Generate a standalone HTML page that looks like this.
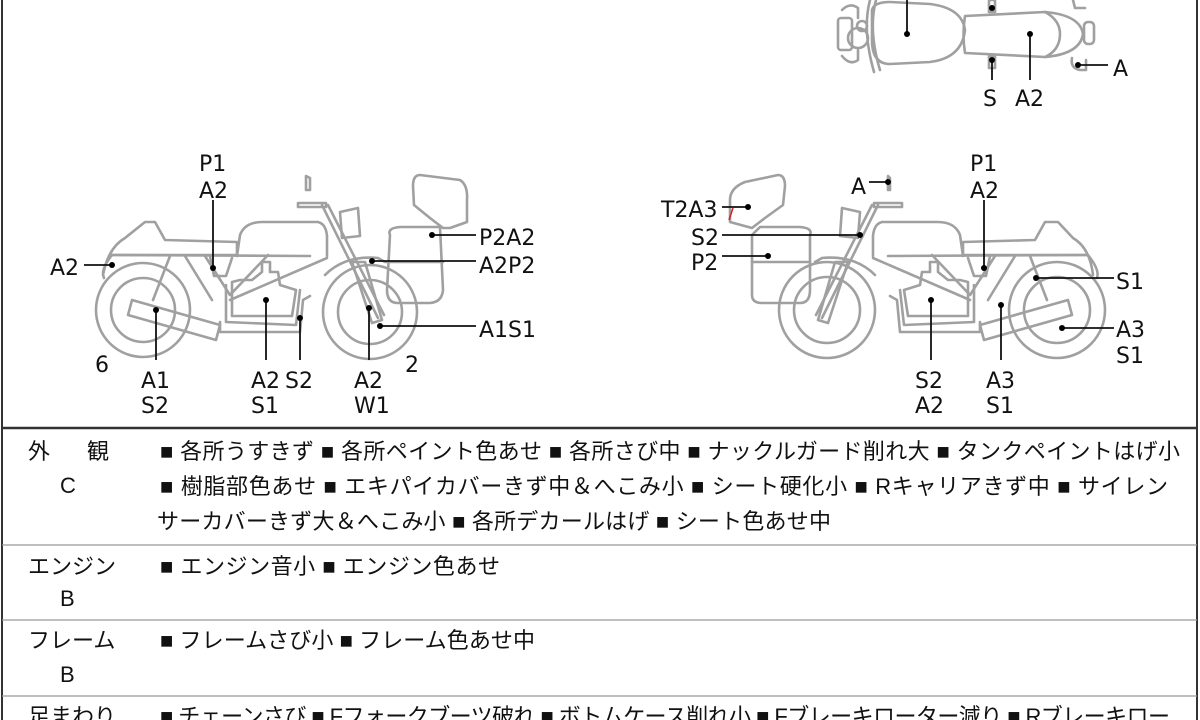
<!DOCTYPE html>
<html><head><meta charset="utf-8"><style>
html,body{margin:0;padding:0;background:#fff;}
body{width:1200px;height:720px;overflow:hidden;position:relative;}
svg{position:absolute;left:0;top:0;}
.jp{font-family:"Liberation Sans","Noto Sans CJK JP",sans-serif;font-size:22px;fill:#111;}
.lb{font-family:"DejaVu Sans","Liberation Sans",sans-serif;font-size:22px;fill:#111;}
.d{fill:none;stroke:#a0a0a0;stroke-width:2.6;stroke-linejoin:round;stroke-linecap:round;}
.l{stroke:#111;stroke-width:1.8;fill:none;}
</style></head><body>
<svg width="1200" height="720" viewBox="0 0 1200 720">
<line x1="2" y1="0" x2="2" y2="720" stroke="#333" stroke-width="2"/>
<line x1="1197" y1="0" x2="1197" y2="720" stroke="#333" stroke-width="2"/>
<line x1="2" y1="428" x2="1197" y2="428" stroke="#333" stroke-width="2.5"/>
<line x1="2" y1="545" x2="1197" y2="545" stroke="#999" stroke-width="1.2"/>
<line x1="2" y1="620" x2="1197" y2="620" stroke="#999" stroke-width="1.2"/>
<line x1="2" y1="696" x2="1197" y2="696" stroke="#999" stroke-width="1.2"/>

<g class="d">
<path d="M872,10 Q874,2 890,2 L930,4 Q962,8 965,30 Q962,58 930,62 L890,64 Q872,64 872,40 Z"/>
<path d="M965,16 L1045,12 Q1080,15 1083,34 Q1080,54 1045,57 L965,53 Q962,34 965,16 Z"/>
<path d="M1045,12 Q1060,20 1060,34 Q1060,50 1045,57"/>
<rect x="1084" y="22" width="10" height="22" rx="4"/>
<path d="M870,0 Q862,30 874,72"/><path d="M876,0 Q868,30 880,70"/>
<rect x="838" y="18" width="14" height="32" rx="3"/>
<circle cx="858" cy="38" r="10"/><circle cx="862" cy="26" r="5"/>
<path d="M842,10 Q850,2 858,8 L858,18"/><path d="M842,56 Q850,66 858,60 L858,50"/>
<rect x="989" y="0" width="6" height="12"/><rect x="989" y="56" width="6" height="12"/>
<path d="M1072,58 Q1070,68 1080,70 L1086,70 L1086,60"/>
<path d="M1073,0 L1075,8 L1085,8"/>
</g>
<g>
<line class="l" x1="907" y1="0" x2="907" y2="34"/><circle cx="907" cy="34" r="3"/>
<line class="l" x1="1030" y1="34" x2="1030" y2="80"/><circle cx="1030" cy="34" r="3"/>
<line class="l" x1="992" y1="60" x2="992" y2="80"/><circle cx="992" cy="60" r="3"/>
<circle cx="992" cy="8" r="3"/>
<line class="l" x1="1078" y1="65" x2="1108" y2="65"/><circle cx="1078" cy="65" r="3"/>
</g>
<text class="lb" x="983" y="106">S</text>
<text class="lb" x="1015" y="106">A2</text>
<text class="lb" x="1113" y="76">A</text>

<g class="d">
<circle cx="143" cy="310" r="47"/><circle cx="143" cy="310" r="32"/>
<circle cx="370" cy="312" r="47"/><circle cx="370" cy="312" r="32"/>
<path d="M103,275 Q108,248 125,238 L145,222 L155,222 L165,240 L237,242 L237,255 L112,255 Q100,270 104,278"/>
<line x1="112" y1="255" x2="310" y2="256"/>
<path d="M237,256 L240,235 Q245,222 262,222 L318,222 Q326,224 327,236 L327,256"/>
<path d="M170,256 L153,300 M185,256 L212,300 M205,256 L230,295 L268,255 M230,300 L327,258"/>
<path d="M210,256 L214,276 L226,276 L232,258"/>
<path d="M232,282 L232,316 L292,316 L296,290 L280,285 L278,272 L270,272 L270,262 L262,262 L262,272 L252,280 L240,280 Z"/>
<path d="M226,285 L226,322 L296,325 L300,290"/>
<path d="M220,322 L220,332 L300,332 L303,300 L310,296"/>
<path d="M132,300 L220,325 L216,340 L128,315 Z"/>
<path d="M322,205 L378,318 M328,205 L384,315"/>
<path d="M352,262 L365,262 L382,320 L372,323 Z"/>
<path d="M298,203 L326,203 L326,207 L298,207 Z"/>
<path d="M306,176 L306,190 L310,190 L310,178 Z"/>
<path d="M340,212 L358,208 L360,236 L342,238 Z"/>
<path d="M325,275 Q345,255 378,258 L385,262"/>
<path d="M390,235 Q387,228 400,227 L440,227 L443,290 Q442,302 430,303 L398,303 Q387,303 387,290 Z"/>
<path d="M413,186 Q413,175 420,175 L460,180 Q468,185 467,200 L467,222 L450,228 L443,228 L430,218 L414,205 Z"/>
<line x1="387" y1="262" x2="443" y2="262"/>
</g>
<g>
<line class="l" x1="213" y1="200" x2="213" y2="268"/><circle cx="213" cy="268" r="3"/>
<line class="l" x1="84" y1="265" x2="112" y2="265"/><circle cx="112" cy="265" r="3"/>
<line class="l" x1="432" y1="235" x2="476" y2="235"/><circle cx="432" cy="235" r="3"/>
<line class="l" x1="372" y1="261" x2="476" y2="261"/><circle cx="372" cy="261" r="3"/>
<line class="l" x1="380" y1="326" x2="476" y2="326"/><circle cx="380" cy="326" r="3"/>
<line class="l" x1="156" y1="310" x2="156" y2="360"/><circle cx="156" cy="310" r="3"/>
<line class="l" x1="266" y1="300" x2="266" y2="360"/><circle cx="266" cy="300" r="3"/>
<line class="l" x1="300" y1="318" x2="300" y2="360"/><circle cx="300" cy="318" r="3"/>
<line class="l" x1="369" y1="308" x2="369" y2="360"/><circle cx="369" cy="308" r="3"/>
</g>
<text class="lb" x="199" y="171">P1</text><text class="lb" x="199" y="198">A2</text>
<text class="lb" x="50" y="275">A2</text>
<text class="lb" x="479" y="245">P2A2</text>
<text class="lb" x="479" y="273">A2P2</text>
<text class="lb" x="479" y="337">A1S1</text>
<text class="lb" x="95" y="372">6</text><text class="lb" x="405" y="372">2</text>
<text class="lb" x="141" y="388">A1</text><text class="lb" x="141" y="413">S2</text>
<text class="lb" x="251" y="388">A2</text><text class="lb" x="251" y="413">S1</text>
<text class="lb" x="285" y="388">S2</text>
<text class="lb" x="354" y="388">A2</text><text class="lb" x="354" y="413">W1</text>

<g class="d">
<circle cx="827" cy="310" r="48"/><circle cx="827" cy="310" r="33"/>
<circle cx="1057" cy="310" r="48"/><circle cx="1057" cy="310" r="33"/>
<path d="M1093,275 Q1090,248 1073,238 L1058,222 L1045,222 L1035,240 L963,242 L963,255 L1088,255 Q1100,270 1097,278"/>
<line x1="1088" y1="255" x2="888" y2="256"/>
<path d="M963,256 L960,235 Q955,222 938,222 L882,222 Q874,224 873,236 L873,256"/>
<path d="M1030,256 L1047,300 M1015,256 L988,300 M995,256 L970,295 L932,255 M970,300 L873,258"/>
<path d="M990,256 L986,276 L974,276 L968,258"/>
<path d="M968,282 L968,316 L908,316 L904,290 L920,285 L922,272 L930,272 L930,262 L938,262 L938,272 L948,280 L960,280 Z"/>
<path d="M974,285 L974,322 L904,325 L900,290"/>
<path d="M980,322 L980,332 L900,332 L897,300 L890,296"/>
<path d="M1068,300 L980,325 L984,340 L1072,315 Z"/>
<path d="M878,205 L822,318 M872,205 L816,315"/>
<path d="M848,262 L835,262 L818,320 L828,323 Z"/>
<path d="M902,203 L874,203 L874,207 L902,207 Z"/>
<path d="M888,176 L888,190 L890,190 L890,178 Z"/>
<path d="M860,212 L842,208 L840,236 L858,238 Z"/>
<path d="M875,275 Q855,255 822,258 L815,262"/>
<path d="M810,235 Q813,228 800,227 L760,227 L752,235 L752,295 Q752,303 762,303 L800,303 Q810,303 810,290 Z"/>
<path d="M785,186 Q785,175 778,175 L745,182 Q730,188 730,200 L730,222 L752,228 L765,218 L783,205 Z"/>
<line x1="752" y1="262" x2="810" y2="262"/>
</g>
<line x1="733" y1="208" x2="729" y2="220" stroke="#d02020" stroke-width="1.5"/>
<g>
<line class="l" x1="722" y1="207" x2="748" y2="207"/><circle cx="748" cy="207" r="3"/>
<line class="l" x1="722" y1="235" x2="860" y2="235"/><circle cx="860" cy="235" r="3"/>
<line class="l" x1="722" y1="256" x2="768" y2="256"/><circle cx="768" cy="256" r="3"/>
<line class="l" x1="869" y1="182" x2="888" y2="182"/><circle cx="888" cy="182" r="3"/>
<line class="l" x1="984" y1="200" x2="984" y2="268"/><circle cx="984" cy="268" r="3"/>
<line class="l" x1="1036" y1="278" x2="1114" y2="278"/><circle cx="1036" cy="278" r="3"/>
<line class="l" x1="1062" y1="328" x2="1114" y2="328"/><circle cx="1062" cy="328" r="3"/>
<line class="l" x1="931" y1="300" x2="931" y2="360"/><circle cx="931" cy="300" r="3"/>
<line class="l" x1="1001" y1="305" x2="1001" y2="360"/><circle cx="1001" cy="305" r="3"/>
</g>
<text class="lb" x="970" y="171">P1</text><text class="lb" x="970" y="198">A2</text>
<text class="lb" x="661" y="217">T2A3</text>
<text class="lb" x="691" y="245">S2</text>
<text class="lb" x="691" y="270">P2</text>
<text class="lb" x="851" y="194">A</text>
<text class="lb" x="1116" y="289">S1</text>
<text class="lb" x="1116" y="337">A3</text><text class="lb" x="1116" y="363">S1</text>
<text class="lb" x="915" y="388">S2</text><text class="lb" x="915" y="413">A2</text>
<text class="lb" x="986" y="388">A3</text><text class="lb" x="986" y="413">S1</text>

<text class="jp" x="28" y="459">外</text><text class="jp" x="87" y="459">観</text>
<text class="jp" x="60" y="493">C</text>
<text class="jp" x="160" y="459" textLength="1020" lengthAdjust="spacing">■ 各所うすきず ■ 各所ペイント色あせ ■ 各所さび中 ■ ナックルガード削れ大 ■ タンクペイントはげ小</text>
<text class="jp" x="160" y="494" textLength="1008" lengthAdjust="spacing">■ 樹脂部色あせ ■ エキパイカバーきず中＆へこみ小 ■ シート硬化小 ■ Rキャリアきず中 ■ サイレン</text>
<text class="jp" x="157" y="529" textLength="674" lengthAdjust="spacing">サーカバーきず大＆へこみ小 ■ 各所デカールはげ ■ シート色あせ中</text>
<text class="jp" x="28" y="574">エンジン</text><text class="jp" x="60" y="606">B</text>
<text class="jp" x="160" y="574" textLength="340" lengthAdjust="spacing">■ エンジン音小 ■ エンジン色あせ</text>
<text class="jp" x="28" y="648">フレーム</text><text class="jp" x="60" y="682">B</text>
<text class="jp" x="160" y="648" textLength="375" lengthAdjust="spacing">■ フレームさび小 ■ フレーム色あせ中</text>
<text class="jp" x="28" y="724">足まわり</text>
<text class="jp" x="160" y="724" textLength="1010" lengthAdjust="spacing">■ チェーンさび ■ Fフォークブーツ破れ ■ ボトムケース削れ小 ■ Fブレーキローター減り ■ Rブレーキロー</text>
</svg>
</body></html>
